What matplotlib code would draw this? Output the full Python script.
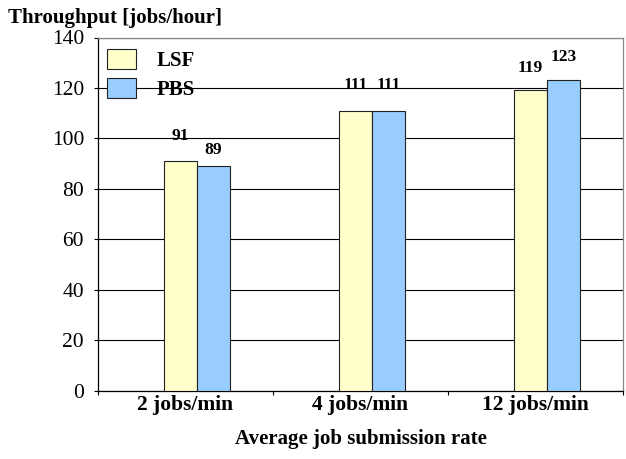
import numpy as np
import matplotlib.pyplot as plt
from matplotlib.ticker import FixedLocator

# data
categories = ["2 jobs/min", "4 jobs/min", "12 jobs/min"]
series_names = ["LSF", "PBS"]
lsf_values = [91, 111, 119]
pbs_values = [89, 111, 123]
y_ticks = [0, 20, 40, 60, 80, 100, 120, 140]

# label gaps above the bar tops (pixels), Excel staggered them a bit
lsf_gap_px = [17, 18, 14]
pbs_gap_px = [8, 18, 15]

colors = ["#FFFFCC", "#99CCFF"]
plt.rcParams["font.family"] = ["Liberation Serif", "DejaVu Serif"]

fig = plt.figure(figsize=(6.26, 4.59), dpi=100)
ax = fig.add_axes([98 / 626, 1 - 390.5 / 459, 525 / 626, 353 / 459])

x = np.arange(len(categories))
width = 0.19
shift = 0.066

bars_lsf = ax.bar(x + shift - width / 2, lsf_values, width, color=colors[0],
                  edgecolor="#222222", linewidth=0.8, label=series_names[0], zorder=3)
bars_pbs = ax.bar(x + shift + width / 2, pbs_values, width, color=colors[1],
                  edgecolor="#222222", linewidth=0.8, label=series_names[1], zorder=3)

# value labels
for bars, vals, gaps in [(bars_lsf, lsf_values, lsf_gap_px), (bars_pbs, pbs_values, pbs_gap_px)]:
    for b, v, g in zip(bars, vals, gaps):
        ax.annotate(str(v), (b.get_x() + b.get_width() / 2, v),
                    xytext=(0, g), textcoords="offset pixels",
                    ha="center", va="bottom", fontsize=12.5, fontweight="bold", zorder=5)

ax.set_xlim(-0.5, len(categories) - 0.5)
ax.set_ylim(0, 140)
ax.set_yticks(y_ticks)
ax.yaxis.grid(True, color="black", linewidth=0.8, zorder=0)
ax.set_axisbelow(True)

ax.set_xticks(x)
ax.set_xticklabels(categories, fontsize=15.5, fontweight="bold")
ax.tick_params(axis="x", which="major", length=0, pad=3)
ax.xaxis.set_minor_locator(FixedLocator(np.arange(-0.5, len(categories), 1.0)))
ax.tick_params(axis="x", which="minor", length=3, width=0.8, direction="out")
ax.tick_params(axis="y", length=3, width=0.8, labelsize=15.5, pad=7)

for side in ["left", "bottom"]:
    ax.spines[side].set_color("black")
    ax.spines[side].set_linewidth(0.9)
for side in ["top", "right"]:
    ax.spines[side].set_color("#888888")
    ax.spines[side].set_linewidth(0.9)

ax.set_xlabel("Average job submission rate", fontsize=15, fontweight="bold", labelpad=10)
fig.text(8 / 626, 1 - 18 / 459, "Throughput [jobs/hour]", fontsize=15,
         fontweight="bold", ha="left", va="center")

leg = ax.legend(loc="upper left", bbox_to_anchor=((107 - 98) / 525, (390.5 - 49) / 353),
                frameon=False, borderpad=0, borderaxespad=0,
                handlelength=1.39, handleheight=1.1, handletextpad=1.0,
                labelspacing=0.34, prop={"size": 15, "weight": "bold"})

fig.savefig("out.png", dpi=100)
